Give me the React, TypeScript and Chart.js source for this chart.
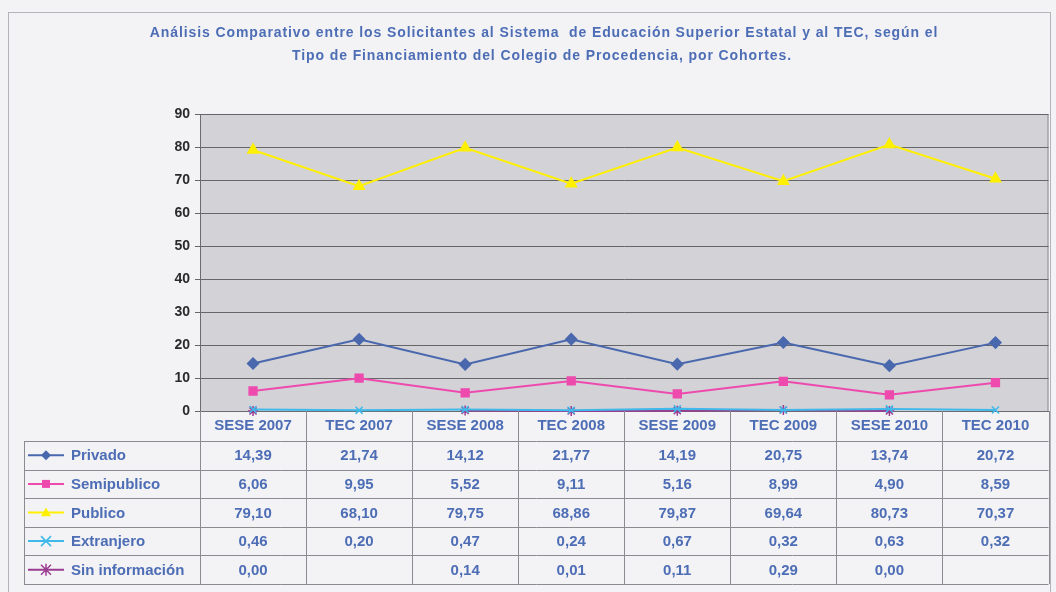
import React, { useEffect, useRef } from "react";
import { Chart, registerables } from "chart.js";

Chart.register(...registerables);

const categories = ["SESE 2007", "TEC 2007", "SESE 2008", "TEC 2008", "SESE 2009", "TEC 2009", "SESE 2010", "TEC 2010"];
const privado = [14.39, 21.74, 14.12, 21.77, 14.19, 20.75, 13.74, 20.72];
const semipublico = [6.06, 9.95, 5.52, 9.11, 5.16, 8.99, 4.9, 8.59];
const publico = [79.1, 68.1, 79.75, 68.86, 79.87, 69.64, 80.73, 70.37];
const extranjero = [0.46, 0.2, 0.47, 0.24, 0.67, 0.32, 0.63, 0.32];
const sinInformacion = [0.0, null, 0.14, 0.01, 0.11, 0.29, 0.0, null];
const yTicks = [0, 10, 20, 30, 40, 50, 60, 70, 80, 90];
const titleLines = [
  "Análisis Comparativo entre los Solicitantes al Sistema  de Educación Superior Estatal y al TEC, según el",
  "Tipo de Financiamiento del Colegio de Procedencia, por Cohortes.",
];

const FONT = '"Liberation Sans", Arial, sans-serif';
const BLUE_TEXT = "#4d6db5";

function fmt(v: number | null) {
  return v === null || v === undefined ? "" : v.toFixed(2).replace(".", ",");
}

function drawMarker(ctx: CanvasRenderingContext2D, style: string, x: number, y: number, r: number, color: string) {
  ctx.save();
  ctx.fillStyle = color;
  ctx.strokeStyle = color;
  ctx.lineWidth = 1.5;
  ctx.beginPath();
  if (style === "rectRot") {
    ctx.moveTo(x, y - r);
    ctx.lineTo(x + r, y);
    ctx.lineTo(x, y + r);
    ctx.lineTo(x - r, y);
    ctx.closePath();
    ctx.fill();
  } else if (style === "rect") {
    ctx.rect(x - r * 0.8, y - r * 0.8, r * 1.6, r * 1.6);
    ctx.fill();
  } else if (style === "triangle") {
    ctx.moveTo(x, y - r);
    ctx.lineTo(x + r, y + r * 0.75);
    ctx.lineTo(x - r, y + r * 0.75);
    ctx.closePath();
    ctx.fill();
  } else if (style === "crossRot") {
    ctx.moveTo(x - r, y - r);
    ctx.lineTo(x + r, y + r);
    ctx.moveTo(x + r, y - r);
    ctx.lineTo(x - r, y + r);
    ctx.stroke();
  } else if (style === "star") {
    ctx.moveTo(x - r, y - r);
    ctx.lineTo(x + r, y + r);
    ctx.moveTo(x + r, y - r);
    ctx.lineTo(x - r, y + r);
    ctx.moveTo(x, y - r * 1.2);
    ctx.lineTo(x, y + r * 1.2);
    ctx.stroke();
  }
  ctx.restore();
}

const tablePlugin = {
  id: "dataTable",
  beforeDraw(chart: any) {
    const { ctx, chartArea: a } = chart;
    ctx.save();
    ctx.fillStyle = "#f3f3f6";
    ctx.fillRect(0, 0, chart.width, chart.height);
    ctx.strokeStyle = "#b4b4b8";
    ctx.lineWidth = 1;
    ctx.strokeRect(8.5, 12.5, 1042, 600);
    ctx.fillStyle = "#d2d2d7";
    ctx.fillRect(a.left, a.top, a.right - a.left, a.bottom - a.top);
    ctx.strokeStyle = "#8a8a8e";
    ctx.strokeRect(a.left + 0.5, a.top + 0.5, a.right - a.left - 1, a.bottom - a.top);
    ctx.restore();
  },
  afterDraw(chart: any) {
    const { ctx, chartArea: a } = chart;
    const xs = chart.scales.x;
    const n = categories.length;
    const colW = (a.right - a.left) / n;
    const headerBottom = a.bottom + 30;
    const rowH = 28.6;
    const legendLeft = 24;
    const nRows = chart.data.datasets.length;
    const tableBottom = headerBottom + rowH * nRows;
    ctx.save();
    // title
    ctx.fillStyle = BLUE_TEXT;
    ctx.font = `bold 14px ${FONT}`;
    (ctx as any).letterSpacing = "0.9px";
    ctx.textAlign = "center";
    ctx.textBaseline = "middle";
    ctx.fillText(titleLines[0], 544, 33);
    ctx.fillText(titleLines[1], 542, 56);
    (ctx as any).letterSpacing = "0px";

    // grid lines
    ctx.strokeStyle = "#8c8c90";
    ctx.lineWidth = 1;
    ctx.beginPath();
    for (let i = 0; i <= n; i++) {
      const x = Math.round(xs.getPixelForValue(Math.min(i, n - 1)) + (i === n ? colW / 2 : -colW / 2)) + 0.5;
      ctx.moveTo(x, a.bottom);
      ctx.lineTo(x, tableBottom);
    }
    ctx.moveTo(legendLeft + 0.5, headerBottom);
    ctx.lineTo(legendLeft + 0.5, tableBottom);
    for (let r = 0; r <= nRows; r++) {
      const y = Math.round(headerBottom + r * rowH) + 0.5;
      ctx.moveTo(legendLeft, y);
      ctx.lineTo(a.right, y);
    }
    ctx.stroke();

    // rows
    chart.data.datasets.forEach((ds: any, r: number) => {
      const cy = headerBottom + r * rowH + rowH / 2;
      ctx.strokeStyle = ds.borderColor;
      ctx.lineWidth = 2;
      ctx.beginPath();
      ctx.moveTo(28, cy);
      ctx.lineTo(64, cy);
      ctx.stroke();
      drawMarker(ctx, ds.pointStyle, 46, cy, 5, ds.pointBackgroundColor);
      ctx.fillStyle = BLUE_TEXT;
      ctx.font = `bold 15px ${FONT}`;
      ctx.textAlign = "left";
      ctx.fillText(ds.label, 71, cy + 1);
      ctx.textAlign = "center";
      ds.data.forEach((v: number | null, i: number) => {
        ctx.fillText(fmt(v), xs.getPixelForValue(i), cy + 1);
      });
    });
    ctx.restore();
  },
};

export default function App() {
  const ref = useRef<HTMLCanvasElement>(null);
  useEffect(() => {
    if (!ref.current) return;
    const mk = (label: string, data: (number | null)[], color: string, style: string, radius: number) => ({
      label,
      data,
      borderColor: color,
      backgroundColor: color,
      pointBackgroundColor: color,
      pointBorderColor: color,
      pointStyle: style,
      pointRadius: radius,
      pointBorderWidth: 1.5,
      borderWidth: 2,
      tension: 0,
      clip: false as any,
      spanGaps: false,
    });
    const chart = new Chart(ref.current, {
      type: "line",
      data: {
        labels: categories,
        datasets: [
          mk("Privado", privado, "#4a68ad", "rectRot", 5.5),
          mk("Semipublico", semipublico, "#ee4aae", "rect", 5.5),
          mk("Publico", publico, "#fff000", "triangle", 6),
          mk("Extranjero", extranjero, "#3fb8ea", "crossRot", 5),
          mk("Sin información", sinInformacion, "#9a3c90", "star", 5),
        ],
      },
      options: {
        animation: false,
        responsive: false,
        layout: { padding: { top: 114, left: 0, right: 4, bottom: 0 } },
        plugins: { legend: { display: false }, title: { display: false }, tooltip: { enabled: false } },
        scales: {
          x: {
            type: "category",
            offset: true,
            grid: { display: false, drawTicks: false },
            border: { display: true, color: "#6c6c70", width: 1 },
            ticks: {
              color: BLUE_TEXT,
              font: { family: FONT, size: 15, weight: "bold" },
              padding: 6,
              maxRotation: 0,
            },
            afterFit: (s: any) => {
              s.height = 181;
            },
          },
          y: {
            min: 0,
            max: 90,
            afterBuildTicks: (s: any) => {
              s.ticks = yTicks.map((v) => ({ value: v }));
            },
            grid: { color: "#66666a", lineWidth: 1, tickLength: 5, drawTicks: true },
            border: { display: true, color: "#6c6c70" },
            ticks: {
              color: "#2a2a2a",
              font: { family: FONT, size: 14, weight: "bold" },
              padding: 5,
            },
            afterFit: (s: any) => {
              s.width = 200;
            },
          },
        },
      },
      plugins: [tablePlugin],
    });
    return () => chart.destroy();
  }, []);
  return (
    <div style={{ position: "absolute", left: 0, top: 0, width: 1056, height: 592 }}>
      <canvas ref={ref} width={1056} height={592} style={{ width: 1056, height: 592, display: "block" }} />
    </div>
  );
}
